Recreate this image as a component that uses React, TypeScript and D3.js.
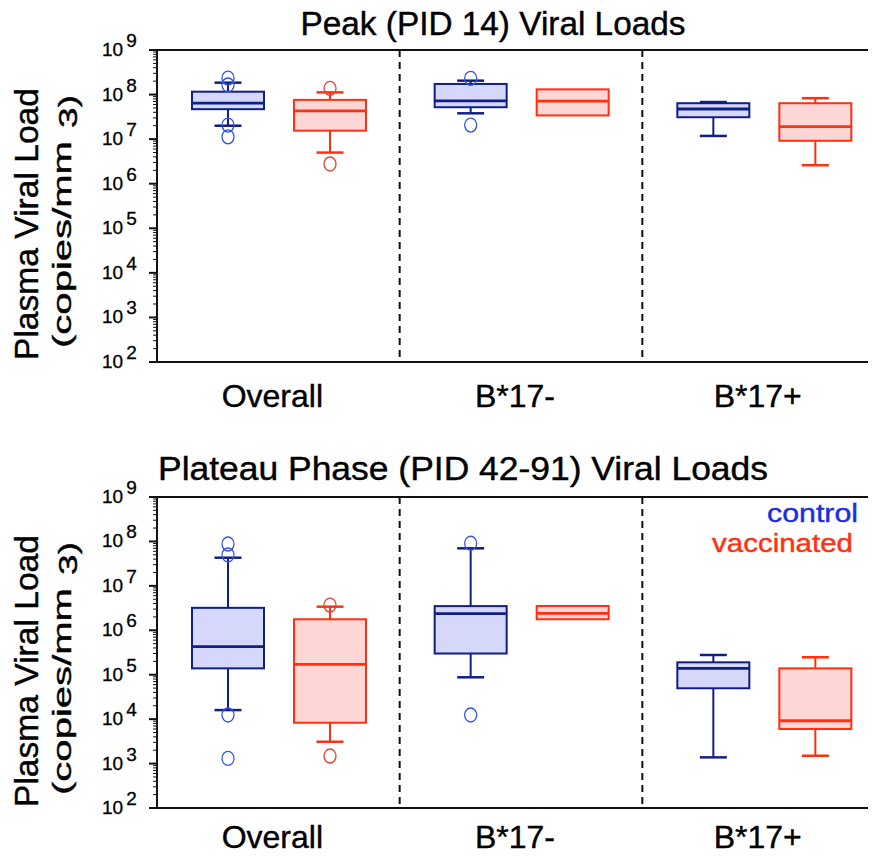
import React, { useEffect, useRef } from 'react';
import * as d3 from 'd3';

const groups = ['Overall', 'B*17-', 'B*17+'];
const series = ['control', 'vaccinated'];
const exponents = [2, 3, 4, 5, 6, 7, 8, 9];

// box stats per group: [whisker low, q1, median, q3, whisker high]
const peakControl = [
    [2.0e7, 4.7e7, 6.4e7, 1.16e8, 1.85e8],
    [3.8e7, 5.2e7, 7.2e7, 1.73e8, 2.05e8],
    [1.18e7, 3.1e7, 4.75e7, 6.4e7, 6.8e7],
];
const peakVaccinated = [
    [5.0e6, 1.55e7, 4.3e7, 7.6e7, 1.12e8],
    [3.4e7, 3.4e7, 7.1e7, 1.31e8, 1.31e8],
    [2.6e6, 9.2e6, 1.9e7, 6.4e7, 8.3e7],
];
const peakControlOutliers = [[2.35e8, 1.64e8, 2.07e7, 1.13e7], [2.32e8, 2.07e7], []];
const peakVaccinatedOutliers = [[1.38e8, 2.77e6], [], []];

const plateauControl = [
    [1.6e4, 1.39e5, 4.27e5, 3.2e6, 4.3e7],
    [8.75e4, 3.0e5, 2.36e6, 3.5e6, 7.0e7],
    [1.38e3, 4.95e4, 1.39e5, 1.9e5, 2.78e5],
];
const plateauVaccinated = [
    [3.1e3, 8.3e3, 1.71e5, 1.77e6, 3.4e6],
    [1.77e6, 1.77e6, 2.41e6, 3.52e6, 3.52e6],
    [1.5e3, 6.0e3, 9.2e3, 1.39e5, 2.47e5],
];
const plateauControlOutliers = [[8.75e7, 4.95e7, 1.24e4, 1.31e3], [9.1e7, 1.24e4], []];
const plateauVaccinatedOutliers = [[3.7e6, 1.48e3], [], []];

const colors = {
    control: { stroke: '#111f85', fill: '#d5d7fb', dot: '#3355dd', text: '#1a2ee0' },
    vaccinated: { stroke: '#ff3010', fill: '#ffd6d6', dot: '#e8402a', text: '#ff3010' },
};

const FONT = '"Liberation Sans", Arial, sans-serif';

const App = () => {
    const ref = useRef<SVGSVGElement>(null);

    useEffect(() => {
        const svg = d3.select(ref.current);
        svg.selectAll('*').remove();

        const width = 876;
        const left = 157;

        const x = d3.scaleBand().domain(groups).range([left, 885]);
        const xs = d3.scaleBand().domain(series).range([20, 224]);
        const boxW = 72;
        const capW = 23;

        const panels = [
            {
                title: 'Peak (PID 14) Viral Loads', titleX: 493, titleY: 35, titleLen: 385,
                top: 50, bottom: 362, labelY: 407,
                data: { control: peakControl, vaccinated: peakVaccinated },
                outliers: { control: peakControlOutliers, vaccinated: peakVaccinatedOutliers },
                legend: false,
            },
            {
                title: 'Plateau Phase (PID 42-91) Viral Loads', titleX: 463, titleY: 480, titleLen: 610,
                top: 497, bottom: 808, labelY: 848,
                data: { control: plateauControl, vaccinated: plateauVaccinated },
                outliers: { control: plateauControlOutliers, vaccinated: plateauVaccinatedOutliers },
                legend: true,
            },
        ];

        panels.forEach(p => {
            const g = svg.append('g');
            const y = d3.scaleLog().domain([1e2, 1e9]).range([p.bottom, p.top]);

            // title
            g.append('text')
                .attr('x', p.titleX).attr('y', p.titleY)
                .attr('text-anchor', 'middle')
                .attr('font-size', 33)
                .attr('textLength', p.titleLen).attr('lengthAdjust', 'spacingAndGlyphs')
                .attr('stroke', '#000').attr('stroke-width', 0.4)
                .text(p.title);

            // frame
            g.append('line').attr('x1', left).attr('x2', width).attr('y1', p.top).attr('y2', p.top)
                .attr('stroke', '#111').attr('stroke-width', 2);
            g.append('line').attr('x1', left).attr('x2', width).attr('y1', p.bottom).attr('y2', p.bottom)
                .attr('stroke', '#111').attr('stroke-width', 2);
            g.append('line').attr('x1', left).attr('x2', left).attr('y1', p.top).attr('y2', p.bottom)
                .attr('stroke', '#111').attr('stroke-width', 2);

            // ticks
            const minor: number[] = [];
            exponents.slice(0, -1).forEach(e => {
                d3.range(2, 10).forEach(m => minor.push(m * Math.pow(10, e)));
            });
            g.selectAll('.minor').data(minor).enter().append('line')
                .attr('x1', left - 4).attr('x2', left)
                .attr('y1', d => y(d)).attr('y2', d => y(d))
                .attr('stroke', '#111').attr('stroke-width', 1);
            g.selectAll('.major').data(exponents).enter().append('line')
                .attr('x1', left - 8).attr('x2', left)
                .attr('y1', d => y(Math.pow(10, d))).attr('y2', d => y(Math.pow(10, d)))
                .attr('stroke', '#111').attr('stroke-width', 2);

            const lab = g.selectAll('.ylab').data(exponents).enter().append('text')
                .attr('x', 102).attr('y', d => y(Math.pow(10, d)) + 6)
                .attr('font-size', 19)
                .attr('stroke', '#000').attr('stroke-width', 0.3);
            lab.append('tspan').text('10');
            lab.append('tspan').attr('dx', 3).attr('dy', -9).text(d => d);

            // y axis title
            const yc = p.top + 174;
            const t = g.append('g').attr('transform', `translate(0, ${yc}) rotate(-90)`)
                .attr('stroke', '#000').attr('stroke-width', 0.4);
            t.append('text').attr('x', 0).attr('y', 38)
                .attr('text-anchor', 'middle').attr('font-size', 33)
                .attr('textLength', 272).attr('lengthAdjust', 'spacingAndGlyphs')
                .text('Plasma Viral Load');
            t.append('text').attr('x', -124).attr('y', 71)
                .attr('font-size', 26)
                .attr('textLength', 207).attr('lengthAdjust', 'spacingAndGlyphs')
                .text('(copies/mm');
            t.append('text').attr('x', 96).attr('y', 77)
                .attr('font-size', 26)
                .attr('textLength', 33).attr('lengthAdjust', 'spacingAndGlyphs')
                .text('3)');

            // dashed separators
            groups.slice(1).forEach(gr => {
                g.append('line')
                    .attr('x1', x(gr)!).attr('x2', x(gr)!)
                    .attr('y1', p.top).attr('y2', p.bottom)
                    .attr('stroke', '#111').attr('stroke-width', 2)
                    .attr('stroke-dasharray', '7,5');
            });

            // category labels
            g.selectAll('.cat').data(groups).enter().append('text')
                .attr('x', d => x(d)! + x.bandwidth() / 2 - 6)
                .attr('y', p.labelY)
                .attr('text-anchor', 'middle')
                .attr('font-size', 32)
                .attr('stroke', '#000').attr('stroke-width', 0.4)
                .text(d => d);

            // boxes
            series.forEach(s => {
                const c = colors[s as 'control'];
                const stats = p.data[s as 'control'];
                const outs = p.outliers[s as 'control'];
                groups.forEach((gr, i) => {
                    const cx = x(gr)! + xs(s)! + xs.bandwidth() / 2;
                    const [lo, q1, med, q3, hi] = stats[i];
                    const bg = g.append('g');
                    if (hi > q3) {
                        bg.append('line').attr('x1', cx).attr('x2', cx).attr('y1', y(q3)).attr('y2', y(hi))
                            .attr('stroke', c.stroke).attr('stroke-width', 2);
                        bg.append('line').attr('x1', cx - capW / 2 - 2).attr('x2', cx + capW / 2 + 2)
                            .attr('y1', y(hi)).attr('y2', y(hi))
                            .attr('stroke', c.stroke).attr('stroke-width', 2.5);
                    }
                    if (lo < q1) {
                        bg.append('line').attr('x1', cx).attr('x2', cx).attr('y1', y(q1)).attr('y2', y(lo))
                            .attr('stroke', c.stroke).attr('stroke-width', 2);
                        bg.append('line').attr('x1', cx - capW / 2 - 2).attr('x2', cx + capW / 2 + 2)
                            .attr('y1', y(lo)).attr('y2', y(lo))
                            .attr('stroke', c.stroke).attr('stroke-width', 2.5);
                    }
                    bg.append('rect')
                        .attr('x', cx - boxW / 2).attr('width', boxW)
                        .attr('y', y(q3)).attr('height', y(q1) - y(q3))
                        .attr('fill', c.fill).attr('stroke', c.stroke).attr('stroke-width', 2);
                    bg.append('line').attr('x1', cx - boxW / 2).attr('x2', cx + boxW / 2)
                        .attr('y1', y(med)).attr('y2', y(med))
                        .attr('stroke', c.stroke).attr('stroke-width', 2.8);
                    bg.selectAll('ellipse').data(outs[i]).enter().append('ellipse')
                        .attr('cx', cx).attr('cy', d => y(d))
                        .attr('rx', 6).attr('ry', 7)
                        .attr('fill', 'none').attr('stroke', c.dot).attr('stroke-width', 1.3);
                });
            });

            if (p.legend) {
                g.append('text').attr('x', 858).attr('y', 522)
                    .attr('text-anchor', 'end').attr('font-size', 26)
                    .attr('textLength', 91).attr('lengthAdjust', 'spacingAndGlyphs')
                    .attr('fill', colors.control.text)
                    .attr('stroke', colors.control.text).attr('stroke-width', 0.4)
                    .text('control');
                g.append('text').attr('x', 853).attr('y', 552)
                    .attr('text-anchor', 'end').attr('font-size', 26)
                    .attr('textLength', 141).attr('lengthAdjust', 'spacingAndGlyphs')
                    .attr('fill', colors.vaccinated.text)
                    .attr('stroke', colors.vaccinated.text).attr('stroke-width', 0.4)
                    .text('vaccinated');
            }
        });
    }, []);

    return (
        <svg ref={ref} width={876} height={857} style={{ display: 'block', fontFamily: FONT, margin: '-8px' }} />
    );
};

export default App;
